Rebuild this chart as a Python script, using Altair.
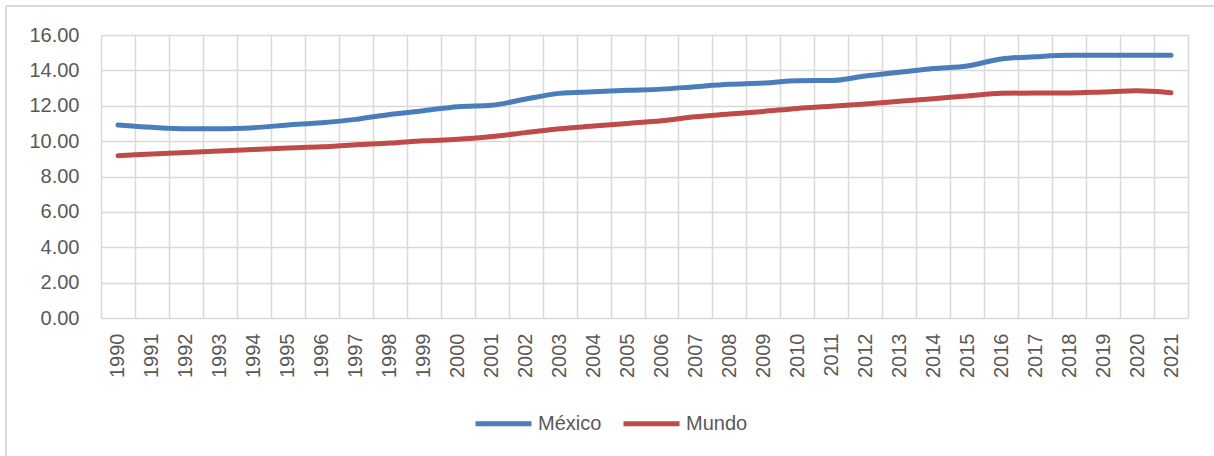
import altair as alt
import pandas as pd

years = list(range(1990, 2022))
mexico = [10.91, 10.78, 10.70, 10.70, 10.76, 10.91, 11.04, 11.23, 11.51, 11.72, 11.95, 12.03,
          12.38, 12.70, 12.79, 12.87, 12.94, 13.08, 13.21, 13.28, 13.42, 13.43,
          13.68, 13.89, 14.10, 14.25, 14.64, 14.77, 14.85, 14.85, 14.85, 14.85]
mundo = [9.18, 9.27, 9.36, 9.44, 9.53, 9.61, 9.68, 9.80, 9.89, 10.02, 10.10, 10.26,
         10.48, 10.70, 10.85, 11.00, 11.15, 11.38, 11.53, 11.68, 11.85, 11.97,
         12.10, 12.25, 12.40, 12.55, 12.70, 12.72, 12.72, 12.78, 12.85, 12.74]
series_names = ["México", "Mundo"]
series_colors = ["#4A7EBB", "#BE4B48"]
y_ticks = [0, 2, 4, 6, 8, 10, 12, 14, 16]

rows = []
for y, a, b in zip(years, mexico, mundo):
    rows.append({"year": str(y), "serie": series_names[0], "value": a})
    rows.append({"year": str(y), "serie": series_names[1], "value": b})
df = pd.DataFrame(rows)

FONT = "Liberation Sans"
GRID = "#D9D9D9"

lines = alt.Chart(df).mark_line(strokeWidth=5, interpolate="monotone", strokeCap="round").encode(
    x=alt.X("year:O", title=None, bandPosition=0.5,
            scale=alt.Scale(type="band", paddingInner=0, paddingOuter=0),
            axis=alt.Axis(tickBand="extent", labelAngle=270, ticks=False, domain=False,
                          labelPadding=15, gridColor=GRID, gridWidth=1.5, grid=True)),
    y=alt.Y("value:Q", title=None, scale=alt.Scale(domain=[0, 16], nice=False),
            axis=alt.Axis(values=y_ticks, format=".2f", ticks=False, domain=False,
                          labelPadding=22, gridColor=GRID, gridWidth=1.5)),
    color=alt.Color("serie:N", title=None,
                    scale=alt.Scale(domain=series_names, range=series_colors),
                    legend=alt.Legend(orient="none", legendX=372, legendY=358, direction="horizontal",
                                      symbolType="stroke", symbolSize=3136, symbolStrokeWidth=5,
                                      labelOffset=4, columnPadding=11)),
)

frame = alt.Data(values=[{}])
top_border = alt.Chart(frame).mark_rule(color=GRID, strokeWidth=2).encode(
    x=alt.value(-95), x2=alt.value(1113), y=alt.value(-29))
left_border = alt.Chart(frame).mark_rule(color=GRID, strokeWidth=2).encode(
    x=alt.value(-95), y=alt.value(-29), y2=alt.value(421))

chart = alt.layer(top_border, left_border, lines).properties(
    width=1087, height=283,
    autosize=alt.AutoSizeParams(type="none"),
    padding={"left": 101, "top": 35, "right": 26, "bottom": 138},
).configure_view(strokeWidth=0).configure_axis(
    labelFont=FONT, labelFontSize=20, labelColor="#595959"
).configure_legend(
    labelFont=FONT, labelFontSize=20, labelColor="#595959"
)

chart.save("out.html", embed_options={"renderer": "svg", "actions": False})
